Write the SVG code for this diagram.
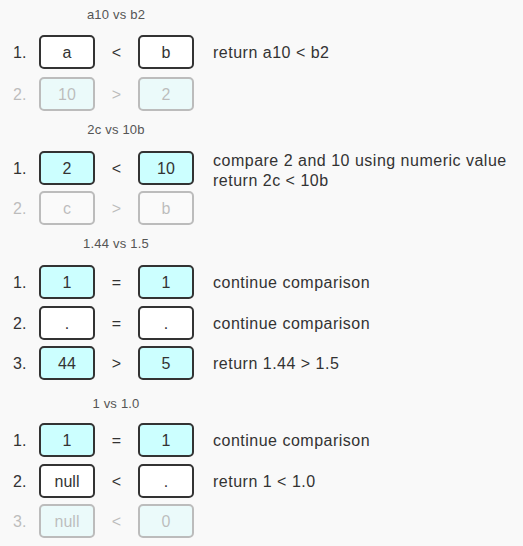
<svg xmlns="http://www.w3.org/2000/svg" width="523" height="546" viewBox="0 0 523 546">
<style>
text{font-family:"Liberation Sans",Arial,sans-serif;font-size:16px;fill:#333}
.title{font-size:13px;fill:#555;text-anchor:middle;letter-spacing:0.2px}
.c{text-anchor:middle}
.d{letter-spacing:0.5px}
.box{fill:#ffffff;stroke:#333;stroke-width:2}
.cy{fill:#ccffff}
.fade{opacity:0.3}
</style>
<rect width="523" height="546" fill="#f9f9f9"/>
<g id="connectors"/>

<g id="sec1">
<text class="title" x="116" y="19">a10 vs b2</text>
<g id="s1r1">
<text x="13" y="58">1.</text>
<g id="s1r1a"><rect class="box" x="40" y="36" width="54" height="32" rx="4"/><text class="c" x="67" y="58">a</text></g>
<text class="c" x="116.5" y="58">&lt;</text>
<g id="s1r1b"><rect class="box" x="139" y="36" width="54" height="32" rx="4"/><text class="c" x="166" y="58">b</text></g>
<text class="d" x="213" y="58">return a10 &lt; b2</text>
</g>
<g id="s1r2" class="fade">
<text x="13" y="100">2.</text>
<g id="s1r2a"><rect class="box cy" x="40" y="78" width="54" height="32" rx="4"/><text class="c" x="67" y="100">10</text></g>
<text class="c" x="116.5" y="100">&gt;</text>
<g id="s1r2b"><rect class="box cy" x="139" y="78" width="54" height="32" rx="4"/><text class="c" x="166" y="100">2</text></g>
</g>
</g>

<g id="sec2">
<text class="title" x="116" y="134">2c vs 10b</text>
<g id="s2r1">
<text x="13" y="174">1.</text>
<g id="s2r1a"><rect class="box cy" x="40" y="152" width="54" height="32" rx="4"/><text class="c" x="67" y="174">2</text></g>
<text class="c" x="116.5" y="174">&lt;</text>
<g id="s2r1b"><rect class="box cy" x="139" y="152" width="54" height="32" rx="4"/><text class="c" x="166" y="174">10</text></g>
<text class="d" x="213" y="166">compare 2 and 10 using numeric value</text>
<text class="d" x="213" y="186">return 2c &lt; 10b</text>
</g>
<g id="s2r2" class="fade">
<text x="13" y="214">2.</text>
<g id="s2r2a"><rect class="box" x="40" y="192" width="54" height="32" rx="4"/><text class="c" x="67" y="214">c</text></g>
<text class="c" x="116.5" y="214">&gt;</text>
<g id="s2r2b"><rect class="box" x="139" y="192" width="54" height="32" rx="4"/><text class="c" x="166" y="214">b</text></g>
</g>
</g>

<g id="sec3">
<text class="title" x="116" y="248">1.44 vs 1.5</text>
<g id="s3r1">
<text x="13" y="288">1.</text>
<g id="s3r1a"><rect class="box cy" x="40" y="266" width="54" height="32" rx="4"/><text class="c" x="67" y="288">1</text></g>
<text class="c" x="116.5" y="288">=</text>
<g id="s3r1b"><rect class="box cy" x="139" y="266" width="54" height="32" rx="4"/><text class="c" x="166" y="288">1</text></g>
<text class="d" x="213" y="288">continue comparison</text>
</g>
<g id="s3r2">
<text x="13" y="329">2.</text>
<g id="s3r2a"><rect class="box" x="40" y="307" width="54" height="32" rx="4"/><text class="c" x="67" y="329">.</text></g>
<text class="c" x="116.5" y="329">=</text>
<g id="s3r2b"><rect class="box" x="139" y="307" width="54" height="32" rx="4"/><text class="c" x="166" y="329">.</text></g>
<text class="d" x="213" y="329">continue comparison</text>
</g>
<g id="s3r3">
<text x="13" y="369">3.</text>
<g id="s3r3a"><rect class="box cy" x="40" y="347" width="54" height="32" rx="4"/><text class="c" x="67" y="369">44</text></g>
<text class="c" x="116.5" y="369">&gt;</text>
<g id="s3r3b"><rect class="box cy" x="139" y="347" width="54" height="32" rx="4"/><text class="c" x="166" y="369">5</text></g>
<text class="d" x="213" y="369">return 1.44 &gt; 1.5</text>
</g>
</g>

<g id="sec4">
<text class="title" x="116" y="408">1 vs 1.0</text>
<g id="s4r1">
<text x="13" y="446">1.</text>
<g id="s4r1a"><rect class="box cy" x="40" y="424" width="54" height="32" rx="4"/><text class="c" x="67" y="446">1</text></g>
<text class="c" x="116.5" y="446">=</text>
<g id="s4r1b"><rect class="box cy" x="139" y="424" width="54" height="32" rx="4"/><text class="c" x="166" y="446">1</text></g>
<text class="d" x="213" y="446">continue comparison</text>
</g>
<g id="s4r2">
<text x="13" y="487">2.</text>
<g id="s4r2a"><rect class="box" x="40" y="465" width="54" height="32" rx="4"/><text class="c" x="67" y="487">null</text></g>
<text class="c" x="116.5" y="487">&lt;</text>
<g id="s4r2b"><rect class="box" x="139" y="465" width="54" height="32" rx="4"/><text class="c" x="166" y="487">.</text></g>
<text class="d" x="213" y="487">return 1 &lt; 1.0</text>
</g>
<g id="s4r3" class="fade">
<text x="13" y="527">3.</text>
<g id="s4r3a"><rect class="box cy" x="40" y="505" width="54" height="32" rx="4"/><text class="c" x="67" y="527">null</text></g>
<text class="c" x="116.5" y="527">&lt;</text>
<g id="s4r3b"><rect class="box cy" x="139" y="505" width="54" height="32" rx="4"/><text class="c" x="166" y="527">0</text></g>
</g>
</g>
</svg>
